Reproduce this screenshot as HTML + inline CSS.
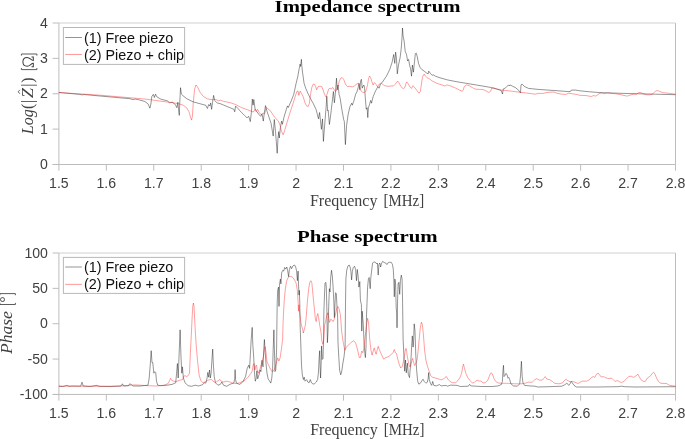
<!DOCTYPE html><html><head><meta charset="utf-8"><title>Impedance and phase spectrum</title>
<style>html,body{margin:0;padding:0;background:#fff;overflow:hidden}body{width:685px;height:439px}svg{display:block;position:absolute;left:0;top:0}text{font-family:"Liberation Sans",sans-serif}.s{font-family:"Liberation Serif",serif}</style></head><body>
<svg width="685" height="439" viewBox="0 0 685 439">
<defs><filter id="g" filterUnits="userSpaceOnUse" x="0" y="0" width="685" height="439" color-interpolation-filters="sRGB"><feOffset dx="0" dy="0"/></filter></defs><g filter="url(#g)">
<g stroke="#bdbdbd" stroke-width="1" fill="none">
<line x1="58.90" y1="23.00" x2="58.90" y2="164.50"/>
<line x1="675.50" y1="23.00" x2="675.50" y2="164.50"/>
<line x1="58.90" y1="23.00" x2="675.50" y2="23.00" stroke="#d0d0d0"/>
<line x1="52.60" y1="164.50" x2="675.50" y2="164.50"/>
<line x1="58.90" y1="164.50" x2="58.90" y2="170.70"/>
<line x1="106.33" y1="164.50" x2="106.33" y2="170.70"/>
<line x1="153.76" y1="164.50" x2="153.76" y2="170.70"/>
<line x1="201.19" y1="164.50" x2="201.19" y2="170.70"/>
<line x1="248.62" y1="164.50" x2="248.62" y2="170.70"/>
<line x1="296.05" y1="164.50" x2="296.05" y2="170.70"/>
<line x1="343.48" y1="164.50" x2="343.48" y2="170.70"/>
<line x1="390.92" y1="164.50" x2="390.92" y2="170.70"/>
<line x1="438.35" y1="164.50" x2="438.35" y2="170.70"/>
<line x1="485.78" y1="164.50" x2="485.78" y2="170.70"/>
<line x1="533.21" y1="164.50" x2="533.21" y2="170.70"/>
<line x1="580.64" y1="164.50" x2="580.64" y2="170.70"/>
<line x1="628.07" y1="164.50" x2="628.07" y2="170.70"/>
<line x1="675.50" y1="164.50" x2="675.50" y2="170.70"/>
<line x1="52.60" y1="164.50" x2="58.90" y2="164.50"/>
<line x1="52.60" y1="129.12" x2="58.90" y2="129.12"/>
<line x1="52.60" y1="93.75" x2="58.90" y2="93.75"/>
<line x1="52.60" y1="58.38" x2="58.90" y2="58.38"/>
<line x1="52.60" y1="23.00" x2="58.90" y2="23.00"/>
</g>
<g fill="#404040" font-size="14.1px">
<text x="58.90" y="188.40" text-anchor="middle">1.5</text>
<text x="106.33" y="188.40" text-anchor="middle">1.6</text>
<text x="153.76" y="188.40" text-anchor="middle">1.7</text>
<text x="201.19" y="188.40" text-anchor="middle">1.8</text>
<text x="248.62" y="188.40" text-anchor="middle">1.9</text>
<text x="296.05" y="188.40" text-anchor="middle">2</text>
<text x="343.48" y="188.40" text-anchor="middle">2.1</text>
<text x="390.92" y="188.40" text-anchor="middle">2.2</text>
<text x="438.35" y="188.40" text-anchor="middle">2.3</text>
<text x="485.78" y="188.40" text-anchor="middle">2.4</text>
<text x="533.21" y="188.40" text-anchor="middle">2.5</text>
<text x="580.64" y="188.40" text-anchor="middle">2.6</text>
<text x="628.07" y="188.40" text-anchor="middle">2.7</text>
<text x="675.50" y="188.40" text-anchor="middle">2.8</text>
<text x="47.90" y="169.20" text-anchor="end">0</text>
<text x="47.90" y="133.82" text-anchor="end">1</text>
<text x="47.90" y="98.45" text-anchor="end">2</text>
<text x="47.90" y="63.08" text-anchor="end">3</text>
<text x="47.90" y="27.70" text-anchor="end">4</text>
</g>
<g fill="none" stroke-width="0.42" stroke-linejoin="round">
<path stroke="#000" d="M58.9 92.5 L80.0 94.4 L82.0 94.9 L84.0 94.5 L100.0 96.0 L120.0 97.8 L130.0 98.7 L133.0 99.6 L135.0 99.0 L138.5 99.7 L144.9 101.5 L148.1 103.9 L149.9 108.2 L150.9 104.0 L151.8 96.5 L153.3 94.4 L154.4 97.5 L155.5 94.1 L156.8 96.8 L160.9 99.2 L167.3 100.8 L169.7 102.9 L172.1 102.1 L175.3 104.5 L176.9 107.7 L177.9 102.1 L178.5 109.3 L179.3 115.4 L179.8 102.1 L180.5 87.7 L181.4 94.1 L183.0 95.7 L186.6 98.6 L193.0 101.8 L201.0 104.0 L205.8 105.3 L207.4 108.5 L208.7 104.5 L209.9 106.1 L210.7 102.9 L211.6 109.3 L212.6 102.1 L213.6 95.4 L214.7 100.5 L217.1 102.9 L220.3 103.7 L223.5 105.0 L229.9 107.7 L233.9 109.3 L234.7 111.8 L235.6 106.1 L238.0 108.5 L239.8 110.7 L244.6 115.5 L247.0 117.9 L248.7 116.3 L250.3 121.6 L251.4 112.3 L252.3 99.1 L253.1 105.1 L253.8 99.5 L255.1 109.1 L256.7 111.5 L259.1 114.7 L260.7 116.3 L262.0 113.9 L263.3 121.1 L264.4 112.3 L265.5 105.6 L266.8 110.7 L268.7 116.3 L271.1 123.5 L273.2 136.1 L274.3 119.5 L275.5 131.6 L277.2 153.3 L278.0 138.0 L278.7 131.6 L279.3 138.0 L280.4 127.6 L281.6 121.1 L282.4 124.3 L284.0 117.1 L286.4 109.1 L287.5 105.9 L288.3 107.5 L290.4 102.7 L291.2 101.0 L293.7 94.6 L296.1 83.4 L297.7 76.9 L299.3 68.1 L300.1 64.1 L300.6 66.5 L301.4 59.3 L301.8 65.7 L302.5 72.1 L304.1 83.4 L305.7 88.2 L308.1 93.8 L310.5 98.6 L312.9 102.8 L316.1 109.5 L318.5 118.9 L319.6 112.5 L321.4 129.3 L322.5 118.9 L323.4 141.4 L324.9 122.1 L326.2 106.1 L326.8 96.3 L327.6 110.9 L328.2 110.2 L329.4 124.5 L330.8 114.1 L332.1 102.8 L333.4 91.5 L334.4 102.8 L335.4 93.0 L336.5 78.2 L337.2 89.8 L338.1 85.0 L339.1 94.6 L340.1 98.0 L342.1 110.9 L343.7 119.7 L344.3 121.3 L345.4 144.6 L346.6 125.3 L348.2 114.1 L350.1 106.1 L351.7 103.2 L352.3 105.2 L353.8 101.2 L355.5 94.6 L357.1 91.4 L358.4 86.6 L359.0 83.4 L359.8 89.8 L360.6 81.0 L361.4 79.3 L362.2 88.2 L363.2 85.8 L363.9 85.0 L364.6 88.2 L365.2 96.2 L365.7 103.0 L366.3 109.3 L367.1 107.7 L367.8 117.6 L368.4 107.7 L369.5 104.5 L370.7 100.4 L371.5 103.2 L373.1 96.7 L375.6 90.8 L378.0 86.6 L379.1 88.2 L380.4 84.2 L382.8 81.8 L383.2 81.0 L386.4 76.2 L389.6 69.8 L392.0 62.6 L393.7 54.5 L394.8 63.4 L395.6 52.1 L396.5 58.5 L397.3 73.8 L398.5 65.0 L400.1 57.7 L401.2 48.9 L402.0 37.7 L402.5 28.0 L403.1 36.1 L404.1 40.9 L405.2 51.3 L406.5 54.5 L407.6 61.0 L408.6 59.4 L409.7 65.8 L410.5 68.2 L411.5 76.2 L412.4 65.0 L413.4 72.2 L414.5 61.8 L415.3 53.7 L416.3 53.2 L417.3 56.9 L418.5 63.4 L420.1 67.4 L422.1 69.8 L424.2 71.1 L426.6 73.0 L428.2 73.8 L428.7 71.1 L430.1 73.0 L432.2 75.4 L433.0 74.6 L435.4 76.2 L441.0 78.1 L447.4 79.9 L457.1 81.8 L466.7 83.4 L476.4 85.0 L490.0 87.3 L496.4 88.9 L501.2 90.5 L502.5 94.0 L503.3 88.9 L505.3 88.1 L506.9 86.5 L508.5 84.9 L509.3 86.0 L510.1 84.9 L512.5 86.2 L515.7 87.8 L518.9 90.5 L520.5 92.9 L521.0 84.9 L522.1 84.1 L524.5 86.5 L528.5 88.4 L538.2 89.4 L554.2 90.5 L567.1 91.5 L570.3 91.6 L571.1 90.2 L575.1 90.0 L579.9 90.8 L589.6 91.8 L600.0 92.6 L623.2 93.4 L655.3 94.2 L675.5 94.7"/>
<path stroke="#f00" stroke-width="0.38" d="M58.9 92.5 L100.0 95.2 L140.0 98.6 L148.0 99.4 L156.1 100.5 L164.1 101.6 L172.1 102.6 L178.5 103.7 L183.4 105.3 L186.6 107.7 L189.0 111.8 L190.6 117.4 L191.5 120.1 L192.4 116.6 L193.3 102.1 L194.6 89.3 L195.9 84.9 L197.5 86.9 L200.2 92.5 L203.4 96.5 L207.4 98.9 L212.3 99.7 L215.5 99.4 L218.7 100.8 L220.3 100.2 L223.5 101.3 L229.9 102.6 L235.0 104.3 L241.4 107.5 L247.8 109.9 L251.9 111.5 L253.5 112.0 L255.1 109.1 L256.2 111.5 L257.5 109.4 L259.1 112.3 L261.0 114.7 L263.1 113.1 L264.7 113.6 L266.3 107.5 L267.9 108.8 L270.3 110.7 L273.5 115.5 L275.9 118.7 L278.4 121.1 L280.0 125.1 L281.6 131.6 L283.2 134.8 L284.8 130.0 L287.2 121.9 L289.6 113.9 L292.8 104.2 L295.3 96.2 L296.9 91.4 L298.0 91.1 L298.9 95.4 L300.1 91.1 L301.7 93.8 L303.3 97.0 L304.9 102.6 L306.5 105.8 L308.1 106.6 L309.4 103.4 L310.5 94.6 L311.8 87.4 L313.2 84.2 L314.5 84.2 L315.7 86.6 L316.6 89.8 L318.1 86.6 L320.1 86.2 L321.8 86.6 L323.0 89.8 L324.6 94.6 L326.1 97.0 L327.4 93.0 L328.7 89.0 L330.1 88.2 L331.4 89.0 L332.7 87.4 L334.3 89.8 L335.4 91.4 L336.5 90.6 L337.8 86.6 L339.1 81.8 L340.7 78.2 L342.3 77.7 L343.9 79.8 L345.5 84.2 L347.4 86.6 L349.9 86.3 L352.3 86.9 L354.7 85.8 L357.1 83.7 L358.7 83.4 L359.8 87.4 L361.1 91.1 L362.7 92.2 L364.3 92.6 L365.9 91.1 L367.5 85.0 L368.6 78.5 L369.6 76.1 L370.7 77.7 L371.9 81.8 L373.1 85.0 L374.4 82.6 L375.9 84.2 L377.5 86.6 L379.1 84.2 L381.2 83.0 L383.6 85.0 L384.8 85.8 L388.0 86.3 L393.7 85.8 L395.3 84.2 L396.9 81.8 L398.0 81.3 L399.3 83.4 L400.9 86.6 L403.3 88.7 L404.9 87.4 L406.0 83.4 L406.9 81.9 L408.4 84.1 L410.4 87.6 L411.6 88.4 L412.8 85.7 L414.5 87.3 L416.9 90.5 L418.9 93.2 L420.4 91.3 L421.4 84.1 L422.5 76.9 L424.1 74.1 L425.4 76.1 L427.3 77.7 L429.7 79.0 L432.1 80.9 L436.9 83.3 L441.8 84.9 L445.0 86.0 L446.9 84.9 L449.8 85.7 L454.6 87.6 L459.4 90.0 L462.3 91.3 L463.4 89.7 L464.2 86.5 L466.6 84.9 L469.1 85.7 L472.3 87.6 L475.5 89.2 L480.3 89.4 L483.5 89.7 L486.7 91.3 L488.8 92.4 L490.7 91.3 L491.6 88.4 L493.2 87.8 L496.4 88.9 L501.2 90.0 L506.1 90.5 L512.5 91.3 L518.9 92.1 L525.3 92.9 L531.8 93.7 L535.0 94.2 L538.2 93.4 L543.0 93.4 L546.2 92.6 L551.0 92.1 L554.2 92.1 L557.4 93.4 L562.3 94.2 L565.5 94.5 L568.7 93.2 L571.9 93.7 L576.7 94.5 L579.9 95.3 L586.3 95.6 L591.1 96.5 L593.5 95.6 L595.9 96.1 L599.1 93.7 L601.5 92.9 L603.9 93.7 L607.1 92.9 L615.1 93.7 L620.0 94.5 L623.2 95.3 L627.2 96.1 L630.4 95.0 L633.6 94.2 L636.8 94.2 L638.4 92.6 L640.8 92.6 L643.3 93.7 L646.5 94.8 L649.7 94.8 L652.9 93.7 L655.3 91.3 L657.2 90.5 L659.3 91.3 L662.5 92.6 L668.1 93.2 L675.5 94.2"/>
</g>
<rect x="63.4" y="27.50" width="121.2" height="36.90" fill="#fff" stroke="#b8b8b8" stroke-width="1"/>
<line x1="65.2" y1="37.50" x2="81.9" y2="37.50" stroke="#000" stroke-width="0.42"/>
<line x1="65.2" y1="54.45" x2="81.9" y2="54.45" stroke="#f00" stroke-width="0.42"/>
<g fill="#111" font-size="14.35px"><text x="84.0" y="42.70">(1) Free piezo</text><text x="84.0" y="59.80">(2) Piezo + chip</text></g>
<g stroke="#bdbdbd" stroke-width="1" fill="none">
<line x1="58.90" y1="253.00" x2="58.90" y2="394.45"/>
<line x1="675.50" y1="253.00" x2="675.50" y2="394.45"/>
<line x1="58.90" y1="253.00" x2="675.50" y2="253.00" stroke="#d0d0d0"/>
<line x1="52.60" y1="394.45" x2="675.50" y2="394.45"/>
<line x1="58.90" y1="394.45" x2="58.90" y2="400.65"/>
<line x1="106.33" y1="394.45" x2="106.33" y2="400.65"/>
<line x1="153.76" y1="394.45" x2="153.76" y2="400.65"/>
<line x1="201.19" y1="394.45" x2="201.19" y2="400.65"/>
<line x1="248.62" y1="394.45" x2="248.62" y2="400.65"/>
<line x1="296.05" y1="394.45" x2="296.05" y2="400.65"/>
<line x1="343.48" y1="394.45" x2="343.48" y2="400.65"/>
<line x1="390.92" y1="394.45" x2="390.92" y2="400.65"/>
<line x1="438.35" y1="394.45" x2="438.35" y2="400.65"/>
<line x1="485.78" y1="394.45" x2="485.78" y2="400.65"/>
<line x1="533.21" y1="394.45" x2="533.21" y2="400.65"/>
<line x1="580.64" y1="394.45" x2="580.64" y2="400.65"/>
<line x1="628.07" y1="394.45" x2="628.07" y2="400.65"/>
<line x1="675.50" y1="394.45" x2="675.50" y2="400.65"/>
<line x1="52.60" y1="394.45" x2="58.90" y2="394.45"/>
<line x1="52.60" y1="359.09" x2="58.90" y2="359.09"/>
<line x1="52.60" y1="323.73" x2="58.90" y2="323.73"/>
<line x1="52.60" y1="288.36" x2="58.90" y2="288.36"/>
<line x1="52.60" y1="253.00" x2="58.90" y2="253.00"/>
</g>
<g fill="#404040" font-size="14.1px">
<text x="58.90" y="418.35" text-anchor="middle">1.5</text>
<text x="106.33" y="418.35" text-anchor="middle">1.6</text>
<text x="153.76" y="418.35" text-anchor="middle">1.7</text>
<text x="201.19" y="418.35" text-anchor="middle">1.8</text>
<text x="248.62" y="418.35" text-anchor="middle">1.9</text>
<text x="296.05" y="418.35" text-anchor="middle">2</text>
<text x="343.48" y="418.35" text-anchor="middle">2.1</text>
<text x="390.92" y="418.35" text-anchor="middle">2.2</text>
<text x="438.35" y="418.35" text-anchor="middle">2.3</text>
<text x="485.78" y="418.35" text-anchor="middle">2.4</text>
<text x="533.21" y="418.35" text-anchor="middle">2.5</text>
<text x="580.64" y="418.35" text-anchor="middle">2.6</text>
<text x="628.07" y="418.35" text-anchor="middle">2.7</text>
<text x="675.50" y="418.35" text-anchor="middle">2.8</text>
<text x="47.90" y="399.15" text-anchor="end">-100</text>
<text x="47.90" y="363.79" text-anchor="end">-50</text>
<text x="47.90" y="328.43" text-anchor="end">0</text>
<text x="47.90" y="293.06" text-anchor="end">50</text>
<text x="47.90" y="257.70" text-anchor="end">100</text>
</g>
<g fill="none" stroke-width="0.42" stroke-linejoin="round">
<path stroke="#000" d="M58.9 386.2 L63.0 386.5 L67.0 385.3 L69.0 386.3 L72.0 386.0 L80.7 386.2 L82.0 382.2 L83.2 386.0 L90.0 386.5 L97.0 385.3 L99.0 386.3 L110.0 386.6 L121.0 386.0 L122.4 383.8 L123.6 386.0 L128.5 385.8 L129.7 383.8 L131.3 384.6 L133.0 386.0 L140.0 386.0 L148.0 385.2 L149.2 378.0 L150.1 366.8 L151.2 350.7 L152.0 362.7 L152.8 362.7 L153.8 373.2 L154.9 371.6 L155.7 372.4 L156.5 381.2 L157.7 385.2 L160.9 385.7 L167.3 385.2 L172.1 384.4 L175.7 382.8 L176.6 373.2 L177.4 363.5 L178.2 378.0 L179.0 357.1 L180.1 329.8 L181.0 357.1 L181.8 373.2 L182.4 366.8 L183.4 378.0 L185.0 382.8 L188.2 385.7 L191.4 386.3 L195.4 385.2 L198.6 386.0 L202.6 384.7 L204.2 382.8 L205.8 383.1 L207.1 378.0 L207.8 372.4 L208.7 377.2 L209.5 370.0 L210.3 378.0 L211.1 373.2 L211.9 360.3 L212.7 349.1 L213.4 365.1 L214.2 376.4 L215.5 382.8 L217.9 385.2 L220.3 384.4 L221.9 382.0 L223.5 385.2 L226.7 386.3 L229.9 384.4 L233.9 382.8 L234.7 378.8 L235.1 369.6 L235.6 379.6 L236.4 383.1 L239.6 384.4 L242.8 382.0 L243.2 381.2 L245.6 376.4 L247.2 368.4 L248.8 365.1 L249.6 368.4 L250.4 353.9 L251.2 339.5 L252.2 327.4 L252.8 344.3 L253.7 357.1 L254.5 373.2 L255.3 381.2 L256.1 378.8 L256.9 370.8 L257.7 378.8 L259.0 374.8 L260.1 370.0 L260.9 371.6 L262.0 360.3 L263.0 366.8 L263.8 349.1 L264.4 339.5 L265.2 352.3 L266.0 363.5 L267.0 373.2 L268.1 378.8 L269.7 381.2 L270.8 383.1 L271.8 378.0 L272.6 368.4 L273.2 349.1 L273.9 329.8 L274.4 349.1 L275.0 371.6 L275.8 370.0 L276.6 349.1 L276.9 325.0 L277.2 303.2 L277.7 290.3 L278.5 287.1 L279.0 306.4 L279.6 283.9 L280.4 279.1 L280.9 283.9 L281.7 272.7 L282.8 270.3 L283.8 271.1 L284.6 267.5 L285.7 269.1 L286.8 267.0 L287.6 270.3 L288.6 276.7 L289.4 269.5 L290.5 266.2 L291.6 268.7 L292.9 265.9 L294.5 265.0 L295.7 267.0 L296.6 271.1 L297.4 280.7 L298.1 271.1 L298.5 283.9 L299.0 295.1 L299.3 290.3 L299.8 303.2 L300.1 325.0 L300.7 341.1 L301.5 365.1 L302.3 374.8 L303.4 379.6 L304.2 377.2 L305.0 381.2 L306.6 379.6 L307.8 382.0 L309.1 382.8 L310.3 379.6 L311.5 382.8 L313.1 384.1 L314.7 383.6 L316.3 382.0 L317.6 379.6 L318.4 373.2 L319.2 357.1 L319.7 350.7 L320.1 366.8 L320.6 378.0 L321.1 365.1 L321.6 345.9 L322.2 359.5 L323.0 358.7 L323.5 341.1 L323.9 311.2 L324.6 291.9 L325.0 283.1 L325.8 282.3 L326.3 287.1 L326.8 306.4 L327.4 342.7 L328.0 331.4 L328.7 306.4 L329.4 288.7 L330.0 291.9 L330.7 277.5 L331.5 270.3 L332.3 275.9 L333.1 287.1 L333.9 303.2 L334.4 317.6 L335.0 303.2 L335.5 292.7 L336.3 293.5 L336.8 303.2 L337.6 316.0 L338.0 342.7 L338.8 357.1 L339.6 370.0 L340.7 374.8 L341.6 372.0 L342.9 363.2 L344.0 356.8 L345.1 347.1 L345.3 325.0 L345.5 303.2 L345.9 279.1 L346.7 270.3 L348.0 265.9 L349.2 265.0 L350.1 267.0 L350.9 271.1 L351.6 279.9 L352.4 271.1 L353.3 267.5 L354.5 266.2 L355.6 269.5 L356.5 280.7 L357.3 269.5 L358.1 275.9 L358.9 287.1 L359.8 281.5 L360.4 300.0 L361.4 304.8 L361.8 331.1 L362.2 311.2 L362.5 315.0 L363.3 324.6 L364.1 343.9 L364.9 353.5 L365.4 357.6 L366.0 347.1 L366.5 316.0 L367.0 303.2 L367.6 287.1 L368.4 279.1 L369.2 277.5 L370.2 288.7 L370.8 277.5 L371.6 271.1 L372.6 263.0 L373.7 261.9 L375.3 262.2 L376.6 263.8 L377.4 263.0 L378.2 275.1 L378.9 264.6 L379.8 263.0 L380.6 267.0 L381.4 263.8 L382.6 261.4 L384.2 262.5 L385.8 263.0 L386.9 264.6 L388.2 262.7 L389.8 262.2 L391.4 262.5 L392.5 264.6 L393.3 269.5 L393.8 279.1 L394.3 296.8 L394.9 279.1 L395.6 283.9 L396.2 308.0 L396.6 312.0 L397.0 327.8 L397.3 318.0 L397.5 303.2 L398.1 283.9 L398.9 282.3 L399.7 294.3 L400.4 280.7 L401.3 275.1 L402.1 279.1 L402.6 303.2 L403.1 339.1 L403.9 355.1 L404.7 371.2 L405.5 360.0 L406.3 372.8 L407.4 363.2 L408.3 374.4 L409.5 377.6 L410.3 368.0 L411.1 356.8 L411.8 343.9 L412.3 335.9 L413.1 347.1 L413.6 340.7 L414.2 323.8 L415.0 331.1 L415.8 355.1 L416.6 369.6 L417.6 380.8 L418.7 384.1 L420.3 383.3 L421.9 380.8 L423.0 379.2 L424.3 381.6 L425.9 383.2 L427.4 382.2 L428.2 378.2 L428.7 372.6 L429.3 379.8 L430.6 383.8 L431.7 385.4 L432.7 381.4 L433.8 385.4 L436.2 385.9 L439.5 384.6 L441.1 385.9 L445.9 385.4 L447.5 386.2 L450.7 385.1 L457.1 385.4 L460.3 386.5 L468.4 386.2 L469.6 384.3 L470.8 385.9 L481.2 386.5 L492.4 386.5 L498.1 385.9 L501.3 384.6 L502.4 381.4 L503.0 370.1 L503.5 365.3 L504.0 376.6 L504.8 375.8 L505.8 373.4 L506.9 374.2 L508.0 378.2 L508.8 377.4 L509.8 379.8 L510.9 383.8 L513.3 385.9 L517.3 386.2 L519.7 383.8 L520.6 375.0 L521.4 361.3 L522.2 376.6 L523.0 383.0 L524.6 385.4 L529.4 385.9 L535.0 386.2 L537.8 387.0 L549.0 386.7 L561.9 386.2 L565.1 384.6 L566.8 383.0 L568.7 385.4 L570.0 383.8 L571.3 381.4 L572.4 383.0 L574.0 385.4 L576.4 387.0 L597.0 387.0 L618.0 386.7 L621.4 386.2 L624.6 386.7 L635.0 387.0 L675.5 386.7"/>
<path stroke="#f00" stroke-width="0.38" d="M58.9 386.2 L80.0 386.2 L100.0 386.3 L120.0 386.0 L135.3 384.9 L140.0 385.2 L148.0 385.7 L156.1 386.0 L164.1 385.2 L168.1 383.6 L169.7 380.4 L170.5 378.3 L171.8 380.4 L173.7 381.2 L176.1 381.5 L179.3 380.4 L182.6 379.6 L183.7 376.4 L185.0 375.6 L186.6 376.7 L188.2 375.6 L189.5 373.2 L190.5 350.0 L191.4 333.0 L192.1 318.0 L192.8 306.0 L193.4 303.0 L194.0 306.0 L194.6 318.0 L195.4 333.0 L196.3 347.0 L197.5 360.3 L199.1 374.8 L200.7 380.4 L202.6 382.5 L205.0 382.0 L207.4 380.4 L209.9 379.6 L211.5 379.6 L213.1 381.2 L215.5 382.8 L217.1 381.2 L218.7 380.4 L219.8 379.3 L221.1 381.2 L223.5 382.0 L226.7 381.2 L229.9 382.0 L232.3 383.1 L236.4 383.6 L239.6 382.8 L242.8 381.2 L244.8 380.4 L248.0 377.2 L250.4 374.0 L252.0 371.6 L253.2 365.1 L254.1 363.5 L254.9 370.0 L255.7 366.0 L256.5 365.1 L257.3 370.8 L258.5 373.2 L260.1 368.4 L261.7 362.7 L263.3 357.1 L264.4 349.1 L265.2 346.7 L266.0 352.3 L267.0 361.9 L268.6 365.1 L270.5 369.2 L272.1 371.6 L273.7 370.8 L275.3 366.8 L276.6 361.9 L277.7 357.9 L278.9 361.1 L280.1 357.9 L281.4 349.1 L282.6 339.5 L283.0 325.0 L283.6 311.2 L284.4 298.4 L285.4 288.7 L286.5 281.5 L288.1 277.5 L289.7 276.4 L291.3 276.4 L292.9 277.5 L294.5 279.9 L296.1 283.1 L297.3 290.3 L298.1 301.6 L298.5 311.2 L299.0 304.8 L299.7 312.8 L300.5 319.2 L301.3 325.0 L302.3 328.0 L303.4 333.0 L304.2 329.8 L305.4 325.0 L306.3 316.0 L307.4 301.6 L308.7 288.7 L309.8 282.3 L310.9 280.7 L311.9 283.1 L312.7 291.9 L313.8 303.2 L314.6 311.2 L315.4 319.2 L316.2 321.6 L317.0 316.0 L317.8 313.6 L318.6 317.6 L319.7 325.0 L321.1 333.0 L321.9 341.1 L322.9 344.3 L323.8 339.5 L324.6 325.0 L325.5 322.0 L326.6 316.0 L327.8 312.8 L328.7 317.6 L329.5 322.4 L330.7 319.2 L331.9 320.0 L333.1 321.6 L334.2 319.2 L335.5 314.4 L336.8 308.0 L337.9 306.4 L339.0 308.8 L340.3 314.4 L341.0 322.0 L341.6 331.1 L343.2 342.3 L344.8 350.3 L346.4 347.1 L348.8 344.7 L351.2 342.3 L353.7 340.7 L355.6 343.1 L356.9 347.1 L358.0 351.9 L359.3 357.6 L360.4 357.6 L361.7 351.1 L362.8 352.7 L363.8 348.7 L364.9 339.1 L366.2 327.8 L367.6 318.3 L368.6 323.0 L369.7 339.1 L371.0 350.3 L372.1 355.1 L373.2 351.1 L374.2 347.9 L375.3 351.9 L376.1 354.3 L377.3 349.5 L378.2 346.3 L379.3 349.5 L380.6 352.7 L382.1 355.9 L383.7 359.2 L385.8 357.6 L388.2 356.8 L390.6 355.1 L393.0 352.7 L394.3 349.5 L395.4 352.7 L396.5 353.5 L397.8 359.2 L399.1 364.0 L400.7 368.0 L402.3 366.4 L403.4 361.6 L404.6 355.1 L405.5 348.7 L406.3 348.7 L407.1 355.1 L408.3 361.6 L409.4 366.4 L410.7 366.4 L411.8 360.8 L412.6 358.4 L413.6 362.4 L414.7 365.6 L415.8 363.2 L417.1 360.0 L418.2 350.3 L419.2 339.1 L420.3 327.8 L421.4 322.2 L422.4 324.6 L423.5 335.9 L424.6 350.3 L425.9 360.0 L427.5 366.4 L429.1 371.2 L430.7 375.5 L432.3 377.2 L434.6 377.8 L438.7 379.0 L441.1 379.8 L443.5 379.0 L445.1 377.4 L446.4 376.6 L447.8 379.0 L449.9 381.4 L452.3 382.7 L455.5 382.7 L457.9 380.6 L460.0 377.4 L461.6 373.4 L462.7 366.9 L463.5 364.2 L464.5 368.5 L465.9 373.4 L467.6 377.4 L470.0 380.6 L472.4 383.0 L474.0 382.7 L475.6 381.1 L477.2 380.3 L479.6 381.1 L481.2 381.1 L483.1 383.0 L485.2 382.7 L487.6 380.6 L489.2 376.6 L490.5 373.4 L491.6 372.9 L492.8 375.0 L494.1 379.0 L495.7 381.4 L498.1 383.0 L502.1 383.3 L508.5 383.3 L514.9 383.8 L521.4 383.8 L526.2 383.0 L528.2 382.2 L532.2 382.2 L534.6 379.8 L536.6 378.7 L539.5 380.1 L542.3 380.1 L543.9 378.2 L545.2 376.6 L546.7 379.0 L549.9 379.8 L552.3 381.4 L554.7 383.3 L558.7 383.8 L562.3 383.0 L564.3 380.6 L566.0 379.3 L567.6 380.6 L570.0 381.7 L572.4 381.4 L574.8 382.2 L578.0 383.5 L580.4 382.2 L582.0 381.1 L586.8 381.1 L589.2 379.8 L591.6 377.4 L593.2 376.6 L594.9 377.4 L596.5 374.2 L598.1 373.0 L599.7 375.0 L601.3 377.0 L603.7 376.6 L605.3 377.7 L608.5 378.5 L611.7 378.2 L613.3 379.8 L614.9 381.4 L617.3 380.6 L618.9 381.4 L621.4 382.7 L623.8 381.4 L626.2 379.2 L628.6 376.6 L631.0 376.1 L633.6 377.4 L636.0 375.8 L638.0 374.2 L639.2 376.6 L640.8 379.5 L643.3 381.4 L645.3 381.4 L647.3 378.2 L650.5 375.8 L652.6 373.0 L653.7 372.2 L655.0 374.2 L656.6 378.2 L658.5 381.7 L660.9 383.3 L666.5 383.5 L669.7 385.4 L675.5 386.2"/>
</g>
<rect x="63.4" y="257.40" width="121.2" height="36.00" fill="#fff" stroke="#b8b8b8" stroke-width="1"/>
<line x1="65.2" y1="267.00" x2="81.9" y2="267.00" stroke="#000" stroke-width="0.42"/>
<line x1="65.2" y1="284.35" x2="81.9" y2="284.35" stroke="#f00" stroke-width="0.42"/>
<g fill="#111" font-size="14.35px"><text x="84.0" y="271.90">(1) Free piezo</text><text x="84.0" y="289.20">(2) Piezo + chip</text></g>
<text class="s" x="367.6" y="11.6" text-anchor="middle" font-size="16.5px" font-weight="bold" fill="#000" textLength="186" lengthAdjust="spacingAndGlyphs">Impedance spectrum</text>
<text class="s" x="367.3" y="242.1" text-anchor="middle" font-size="16.5px" font-weight="bold" fill="#000" textLength="140.7" lengthAdjust="spacingAndGlyphs">Phase spectrum</text>
<g class="s" font-size="16px" fill="#404040"><text class="s" x="309.90" y="205.80" textLength="67.6" lengthAdjust="spacingAndGlyphs">Frequency</text><text class="s" x="383.50" y="205.80" textLength="40.6" lengthAdjust="spacingAndGlyphs">[MHz]</text></g>
<g class="s" font-size="16px" fill="#404040"><text class="s" x="310.20" y="434.80" textLength="67.6" lengthAdjust="spacingAndGlyphs">Frequency</text><text class="s" x="383.80" y="434.80" textLength="40.6" lengthAdjust="spacingAndGlyphs">[MHz]</text></g>
<g transform="translate(33.3,134.2) rotate(-90)" fill="#404040"><text class="s" x="0.00" y="0.00" font-size="16.50px" font-style="italic" textLength="25.00" lengthAdjust="spacingAndGlyphs">Log</text><text class="s" x="25.20" y="0.00" font-size="16.00px">(</text><text class="s" x="31.30" y="0.00" font-size="16.00px">|</text><text class="s" x="36.20" y="0.00" font-size="16.50px" font-style="italic" textLength="10.00" lengthAdjust="spacingAndGlyphs">Z</text><text class="s" x="47.40" y="0.00" font-size="16.00px">|</text><text class="s" x="51.40" y="0.00" font-size="16.00px">)</text><path d="M66.20 -11.9 H64.60 V3.6 H66.20 M78.60 -11.9 H80.20 V3.6 H78.60" fill="none" stroke="#404040" stroke-width="0.85"/><path transform="translate(67.5,0) scale(9.8,-10.4)" d="M0,0.17 L0,0 L0.36,0 C0.36,0.22 0.05,0.3 0.05,0.6 C0.05,0.85 0.25,1 0.5,1 C0.75,1 0.95,0.85 0.95,0.6 C0.95,0.3 0.64,0.22 0.64,0 L1,0 L1,0.17" fill="none" stroke="#404040" stroke-width="0.1"/><path d="M40.4 -13.4 L42.4 -15.1 L44.4 -13.4" fill="none" stroke="#404040" stroke-width="0.8"/></g>
<g transform="translate(11.8,354.0) rotate(-90)" fill="#404040"><text class="s" x="0.00" y="0.00" font-size="16.50px" font-style="italic" textLength="42.80" lengthAdjust="spacingAndGlyphs">Phase</text><path d="M51.10 -11.9 H49.50 V3.6 H51.10 M58.80 -11.9 H60.40 V3.6 H58.80" fill="none" stroke="#404040" stroke-width="0.85"/><text class="s" x="51.50" y="-1.70" font-size="15.00px">°</text></g>
</g></svg></body></html>
